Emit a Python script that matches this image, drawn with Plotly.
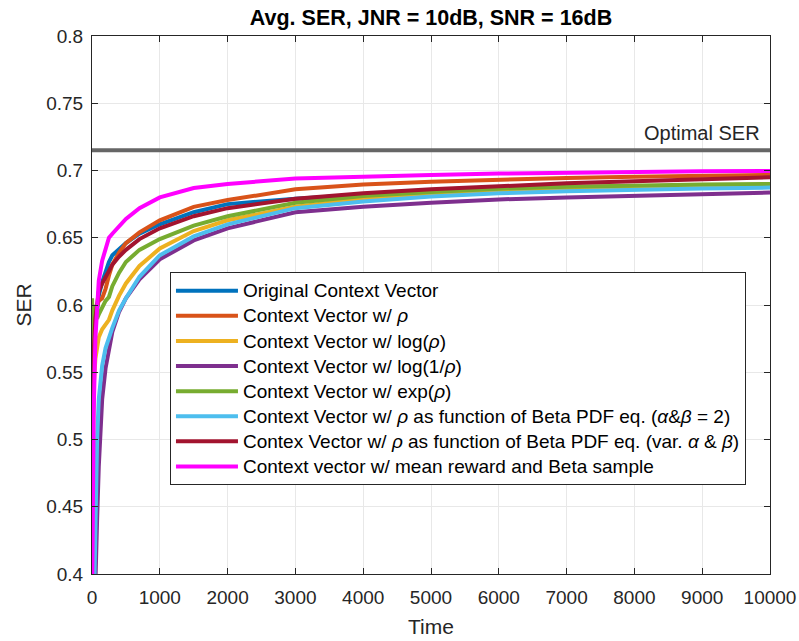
import plotly.graph_objects as go

# ---- data ----
time = [1, 10, 25, 50, 75, 100, 150, 200, 250, 300, 400, 500, 700, 1000,
        1500, 2000, 3000, 4000, 5000, 6000, 7000, 8000, 9000, 10000]

ser_original = [0.52, 0.54, 0.565, 0.585, 0.598, 0.607, 0.617, 0.625, 0.632, 0.637, 0.642, 0.646, 0.653, 0.660,
                0.669, 0.675, 0.679, 0.682, 0.684, 0.686, 0.687, 0.6877, 0.6883, 0.6888]
ser_rho = [0.45, 0.53, 0.575, 0.595, 0.600, 0.603, 0.605, 0.612, 0.622, 0.630, 0.639, 0.646, 0.654, 0.663,
           0.673, 0.678, 0.686, 0.6895, 0.6917, 0.6933, 0.6945, 0.6953, 0.696, 0.6967]
ser_logrho = [0.42, 0.50, 0.54, 0.56, 0.570, 0.576, 0.582, 0.586, 0.589, 0.596, 0.607, 0.616, 0.629, 0.642,
              0.655, 0.663, 0.673, 0.679, 0.682, 0.685, 0.6865, 0.6875, 0.6883, 0.689]
ser_log1rho = [0.30, 0.32, 0.35, 0.39, 0.44, 0.48, 0.530, 0.553, 0.568, 0.580, 0.595, 0.605, 0.619, 0.634,
               0.648, 0.657, 0.669, 0.673, 0.676, 0.6785, 0.680, 0.681, 0.682, 0.6836]
ser_exprho = [0.605, 0.57, 0.60, 0.595, 0.59, 0.593, 0.598, 0.603, 0.606, 0.614, 0.624, 0.632, 0.641, 0.649,
              0.659, 0.666, 0.676, 0.681, 0.684, 0.6865, 0.688, 0.689, 0.6895, 0.690]
ser_beta2 = [0.30, 0.33, 0.38, 0.45, 0.50, 0.53, 0.555, 0.568, 0.576, 0.583, 0.596, 0.605, 0.621, 0.637,
             0.651, 0.660, 0.672, 0.677, 0.6806, 0.683, 0.6845, 0.6857, 0.6866, 0.6873]
ser_betavar = [0.45, 0.52, 0.565, 0.59, 0.603, 0.610, 0.616, 0.621, 0.626, 0.630, 0.636, 0.641, 0.649, 0.657,
               0.666, 0.672, 0.679, 0.683, 0.686, 0.6885, 0.6905, 0.692, 0.6935, 0.695]
ser_meanreward = [0.38, 0.45, 0.52, 0.575, 0.605, 0.618, 0.633, 0.643, 0.650, 0.653, 0.659, 0.664, 0.672, 0.680,
                  0.687, 0.690, 0.694, 0.6955, 0.6967, 0.6977, 0.6985, 0.699, 0.6994, 0.6997]

optimal_ser = 0.715
optimal_x = [0, 10000]

names = [
    "Original Context Vector",
    "Context Vector w/ <i>ρ</i>",
    "Context Vector w/ log(<i>ρ</i>)",
    "Context Vector w/ log(1/<i>ρ</i>)",
    "Context Vector w/ exp(<i>ρ</i>)",
    "Context Vector w/ <i>ρ</i> as function of Beta PDF eq. (<i>α</i>&amp;<i>β</i> = 2)",
    "Contex Vector w/ <i>ρ</i> as function of Beta PDF eq. (var. <i>α</i> &amp; <i>β</i>)",
    "Context vector w/ mean reward and Beta sample",
]
series = [ser_original, ser_rho, ser_logrho, ser_log1rho, ser_exprho,
          ser_beta2, ser_betavar, ser_meanreward]
colors = ["#0072BD", "#D95319", "#EDB120", "#7E2F8E", "#77AC30",
          "#4DBEEE", "#A2142F", "#FF00FF"]

FONT = "Liberation Sans, Arial, Helvetica, sans-serif"
TXT = "#262626"

fig = go.Figure()

fig.add_trace(go.Scatter(x=optimal_x, y=[optimal_ser, optimal_ser], mode="lines",
                         line=dict(color="#666666", width=4), showlegend=False,
                         hoverinfo="skip"))

for nm, ys, c in zip(names, series, colors):
    fig.add_trace(go.Scatter(x=time, y=ys, mode="lines",
                             name="<span style='font-size:19px'>" + nm + "</span>",
                             line=dict(color=c, width=4)))

fig.add_annotation(x=0.988, xref="paper", y=optimal_ser, yref="y",
                   text="Optimal SER", showarrow=False, xanchor="right",
                   yanchor="middle", yshift=17,
                   font=dict(family=FONT, size=20, color=TXT))

fig.update_layout(
    width=799, height=641,
    margin=dict(l=92, r=29, t=36, b=67),
    paper_bgcolor="white", plot_bgcolor="white",
    font=dict(family=FONT, color=TXT),
    title=dict(text="<b>Avg. SER, JNR = 10dB, SNR = 16dB</b>", x=0.5, xref="paper",
               xanchor="center", y=1 - 17 / 641, yref="container", yanchor="middle",
               font=dict(family=FONT, size=21.5, color="black")),
    xaxis=dict(range=[0, 10000], dtick=1000, tick0=0, tickformat="d", automargin=False,
               showgrid=True, gridcolor="#e8e8e8", gridwidth=1,
               showline=True, linecolor=TXT, linewidth=1, mirror="ticks",
               ticks="inside", ticklen=6, tickcolor=TXT, zeroline=False,
               ticklabelstandoff=6,
               tickfont=dict(family=FONT, size=19, color=TXT),
               title=dict(text="Time", font=dict(family=FONT, size=21, color=TXT), standoff=12)),
    yaxis=dict(range=[0.4, 0.8], dtick=0.05, tick0=0.4, automargin=False,
               showgrid=True, gridcolor="#e8e8e8", gridwidth=1,
               showline=True, linecolor=TXT, linewidth=1, mirror="ticks",
               ticks="inside", ticklen=6, tickcolor=TXT, zeroline=False,
               ticklabelstandoff=4,
               tickfont=dict(family=FONT, size=19, color=TXT),
               title=dict(text="SER", font=dict(family=FONT, size=21, color=TXT), standoff=8)),
    legend=dict(x=0.115, y=0.561, xanchor="left", yanchor="top",
                bgcolor="white", bordercolor=TXT, borderwidth=1,
                font=dict(family=FONT, size=17, color="black"),
                itemwidth=62, tracegroupgap=0),
    showlegend=True,
)

fig.write_html("out.html")
